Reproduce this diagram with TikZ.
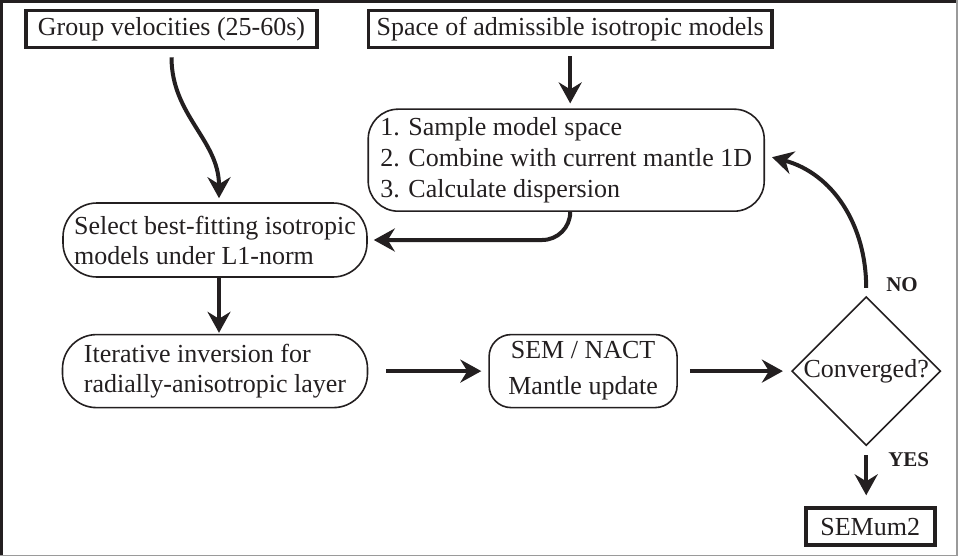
\documentclass[tikz,border=0pt]{standalone}
\usepackage{fontspec}
\setmainfont{Liberation Serif}
\usepackage{tikz}
\usetikzlibrary{arrows.meta,positioning,shapes.geometric}
\definecolor{Ink}{HTML}{231F20}
\definecolor{Rule}{HTML}{9A9A9A}

\begin{document}
\begin{tikzpicture}[
  every node/.style={font=\fontsize{13}{15.5}\selectfont,text=Ink},
  inbox/.style={rectangle,draw=Ink,line width=1.8pt,minimum height=18.5pt,inner xsep=6pt},
  roundbox/.style={rectangle,rounded corners=15pt,draw=Ink,line width=0.8pt,align=left},
  decision/.style={diamond,draw=Ink,line width=0.8pt,minimum width=74.5pt,minimum height=74pt,inner sep=0pt},
  arrow/.style={-{Stealth[length=10.5pt,width=11.5pt,inset=3.5pt]},line width=2pt,color=Ink},
  lbl/.style={font=\fontsize{10.5}{12}\selectfont\bfseries}
]
\useasboundingbox (0,0) rectangle (479pt,-278pt);
% frame
\draw[Ink,line width=1.5pt] (0.75pt,-278pt) -- (0.75pt,-0.75pt) -- (479pt,-0.75pt);
\draw[Rule,line width=0.6pt] (478.5pt,0) -- (478.5pt,-277.6pt) -- (0,-277.6pt);

\node[inbox] (gv) at (85.75pt,-14.5pt) {Group velocities (25-60s)};
\node[inbox,inner xsep=4pt,right=24pt of gv] (sp) {Space of admissible isotropic models};
\node[roundbox,minimum width=198pt,minimum height=51pt,below=29.5pt of sp,xshift=-2pt] (samp)
  {1. Sample model space\\2. Combine with current mantle 1D\\3. Calculate dispersion};
\node[roundbox,rounded corners=17pt,minimum width=152pt,minimum height=37pt,
  font=\fontsize{13}{15}\selectfont] (sel) at (107.5pt,-120pt)
  {Select best-fitting isotropic\\models under L1-norm};
\node[roundbox,rounded corners=17pt,minimum width=152.5pt,minimum height=36.5pt,
  font=\fontsize{13}{15}\selectfont,below=28pt of sel] (itr)
  {Iterative inversion for\\radially-anisotropic layer};
\node[roundbox,rounded corners=11pt,align=center,minimum width=94pt,minimum height=36.5pt,
  font=\fontsize{13}{18}\selectfont,right=60pt of itr] (sem) {SEM / NACT\\Mantle update};
\node[decision,right=56.5pt of sem] (conv) {Converged?};
\node[inbox,minimum width=64.5pt,below=30pt of conv,xshift=2pt] (out) {SEMum2};

\node[lbl,anchor=base west] (no) at ([xshift=6.5pt,yshift=2pt]conv.north) {NO};
\node[lbl,anchor=base west] (yes) at ([xshift=7.5pt,yshift=-10pt]conv.south) {YES};

\draw[arrow] ([yshift=-4pt]gv.south) to[out=-90,in=90] ([xshift=2pt,yshift=2pt]sel.north);
\draw[arrow] ([yshift=-3.5pt]sp.south) -- ([yshift=2.5pt]samp.north -| sp.south);
\draw[arrow,rounded corners=14pt] ([yshift=-2pt]samp.south -| sp.south) |- ([xshift=3pt]sel.east);
\draw[arrow] ([xshift=2pt]sel.south) -- ([xshift=2pt,yshift=0.5pt]itr.north);
\draw[arrow] ([xshift=9pt]itr.east) -- ([xshift=-3.5pt]sem.west);
\draw[arrow] ([xshift=6pt]sem.east) -- ([xshift=-4pt]conv.west);
\draw[arrow] ([yshift=4pt]conv.north) to[out=90,in=-15] ([xshift=3.5pt,yshift=1.5pt]samp.east);
\draw[arrow] ([yshift=-4.5pt]conv.south) -- ([yshift=5.5pt]out.north -| conv.south);
\end{tikzpicture}
\end{document}
